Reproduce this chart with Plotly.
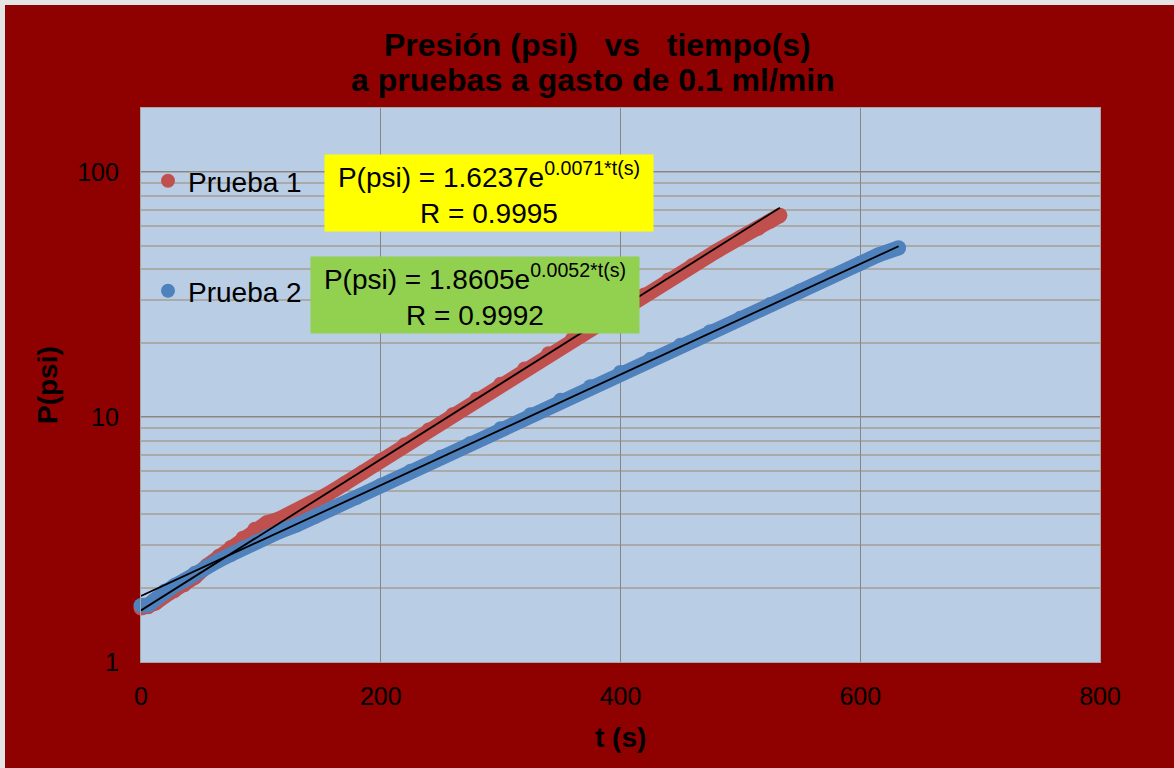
import plotly.graph_objects as go

# Measured pressure vs time, test 1 (Prueba 1)
t_prueba1 = [0, 6, 12, 20, 28, 36, 45, 55, 65, 75, 85, 95, 105, 115, 125, 135, 145, 155,
             170, 185, 200, 220, 240, 260, 280, 300, 320, 340, 360, 380, 400, 420, 440,
             460, 480, 500, 515, 525, 533]
p_prueba1 = [1.66, 1.68, 1.74, 1.86, 1.96, 2.07, 2.22, 2.47, 2.70, 2.93, 3.20, 3.48, 3.70,
             3.83, 4.02, 4.25, 4.52, 4.82, 5.35, 5.95, 6.65, 7.70, 8.85, 10.2, 11.8, 13.6,
             15.7, 18.1, 20.8, 23.9, 27.4, 31.5, 36.2, 41.5, 47.5, 54.0, 59.0, 63.0, 66.5]

# Measured pressure vs time, test 2 (Prueba 2)
t_prueba2 = [0, 6, 12, 20, 28, 36, 45, 55, 65, 75, 85, 95, 105, 115, 130, 145, 160, 180,
             200, 225, 250, 275, 300, 325, 350, 375, 400, 425, 450, 475, 500, 525, 550,
             575, 600, 615, 632]
p_prueba2 = [1.70, 1.71, 1.80, 1.95, 2.05, 2.15, 2.30, 2.45, 2.60, 2.75, 2.92, 3.08, 3.25,
             3.40, 3.63, 3.93, 4.25, 4.70, 5.25, 6.00, 6.85, 7.80, 8.95, 10.2, 11.7, 13.3,
             15.2, 17.2, 19.6, 22.3, 25.3, 28.8, 32.7, 37.3, 42.4, 45.8, 49.0]

# Exponential fits P = a * exp(b * t)
fit1_a, fit1_b, fit1_r = 1.6237, 0.0071, 0.9995
fit2_a, fit2_b, fit2_r = 1.8605, 0.0052, 0.9992

x_ticks = [0, 200, 400, 600, 800]
y_ticks = [1, 10, 100]

RED = "#C0504D"
BLUE = "#4F81BD"
BG = "#8F0000"
FONT = "Liberation Sans, Arial, sans-serif"

# plot area in pixels: x 141..1100, y 108..662
L, R, T, B = 141, 1100, 108, 662
W, H = 1174, 768


def px(xp):
    return (xp - L) / (R - L)


def py(yp):
    return (B - yp) / (B - T)


def fit_curve(a, b, t_end):
    ts = [0, t_end]
    return ts, [a * 2.718281828459045 ** (b * t) for t in ts]


fig = go.Figure()

for t, p, col in [(t_prueba1, p_prueba1, RED), (t_prueba2, p_prueba2, BLUE)]:
    fig.add_trace(go.Scatter(
        x=t, y=p, mode="lines+markers",
        line=dict(color=col, width=15),
        marker=dict(color=col, size=15),
        showlegend=False, cliponaxis=False, hoverinfo="x+y"))

for a, b, t in [(fit1_a, fit1_b, t_prueba1), (fit2_a, fit2_b, t_prueba2)]:
    tx, ty = fit_curve(a, b, t[-1])
    fig.add_trace(go.Scatter(x=tx, y=ty, mode="lines",
                             line=dict(color="black", width=1.8),
                             showlegend=False))

# legend entries
fig.add_trace(go.Scatter(x=[None], y=[None], mode="markers", name="Prueba 1",
                         marker=dict(color=RED, size=14), legend="legend"))
fig.add_trace(go.Scatter(x=[None], y=[None], mode="markers", name="Prueba 2",
                         marker=dict(color=BLUE, size=14), legend="legend2"))

leg_common = dict(font=dict(family=FONT, size=28, color="black"),
                  bgcolor="rgba(0,0,0,0)", xanchor="left", yanchor="middle",
                  itemwidth=30)
fig.update_layout(
    legend=dict(x=px(148), y=py(181), **leg_common),
    legend2=dict(x=px(148), y=py(291), **leg_common),
)

annotations = [
    dict(text="Presión (psi)   vs   tiempo(s)", x=px(597), y=py(45),
         font=dict(size=32, family=FONT, color="black", weight="bold")),
    dict(text="a pruebas a gasto de 0.1 ml/min", x=px(593), y=py(80),
         font=dict(size=32, family=FONT, color="black", weight="bold")),
    dict(text="t (s)", x=px(620), y=py(737),
         font=dict(size=28, family=FONT, color="black", weight="bold")),
    dict(text="P(psi)", x=px(47), y=py(385), textangle=-90,
         font=dict(size=28, family=FONT, color="black", weight="bold")),
    dict(text=f"P(psi) = {fit1_a}e<sup>{fit1_b}*t(s)</sup><br>R = {fit1_r}",
         x=px(489), y=py(193), bgcolor="#FFFF00", width=328, height=76,
         borderpad=0, font=dict(size=28, family=FONT, color="black")),
    dict(text=f"P(psi) = {fit2_a}e<sup>{fit2_b}*t(s)</sup><br>R = {fit2_r}",
         x=px(475), y=py(295), bgcolor="#92D050", width=328, height=76,
         borderpad=0, font=dict(size=28, family=FONT, color="black")),
]
for an in annotations:
    an.update(xref="paper", yref="paper", showarrow=False,
              xanchor="center", yanchor="middle")

fig.update_layout(
    annotations=annotations,
    width=W, height=H,
    margin=dict(l=L, r=W - R, t=T, b=H - B, pad=0),
    paper_bgcolor=BG, plot_bgcolor="#B9CDE5",
    font=dict(family=FONT, color="black"),
    shapes=[
        dict(type="rect", xref="paper", yref="paper", x0=px(0), x1=px(5),
             y0=py(0), y1=py(H), fillcolor="#E4E4E4", line=dict(width=0)),
        dict(type="rect", xref="paper", yref="paper", x0=px(0), x1=px(W),
             y0=py(0), y1=py(5), fillcolor="#E4E4E4", line=dict(width=0)),
    ],
)

fig.update_xaxes(range=[0, 800], tickvals=x_ticks, ticktext=[str(v) for v in x_ticks],
                 showgrid=True, gridcolor="#868686", gridwidth=1.3,
                 showline=True, linecolor="#A6A6A6", linewidth=1.3, mirror=True,
                 zeroline=False, ticks="outside", ticklen=12, tickcolor="rgba(0,0,0,0)",
                 tickfont=dict(size=25, family=FONT, color="black"))
fig.update_yaxes(type="log", range=[0, 2.261], tickvals=y_ticks,
                 ticktext=[str(v) for v in y_ticks],
                 showgrid=True, gridcolor="#868686", gridwidth=1.3,
                 minor=dict(dtick="D1", showgrid=True, gridcolor="#AAAAAA", gridwidth=1.6),
                 showline=True, linecolor="#A6A6A6", linewidth=1.3, mirror=True,
                 zeroline=False, ticks="outside", ticklen=16, tickcolor="rgba(0,0,0,0)",
                 tickfont=dict(size=25, family=FONT, color="black"))

fig.write_html("out.html")
